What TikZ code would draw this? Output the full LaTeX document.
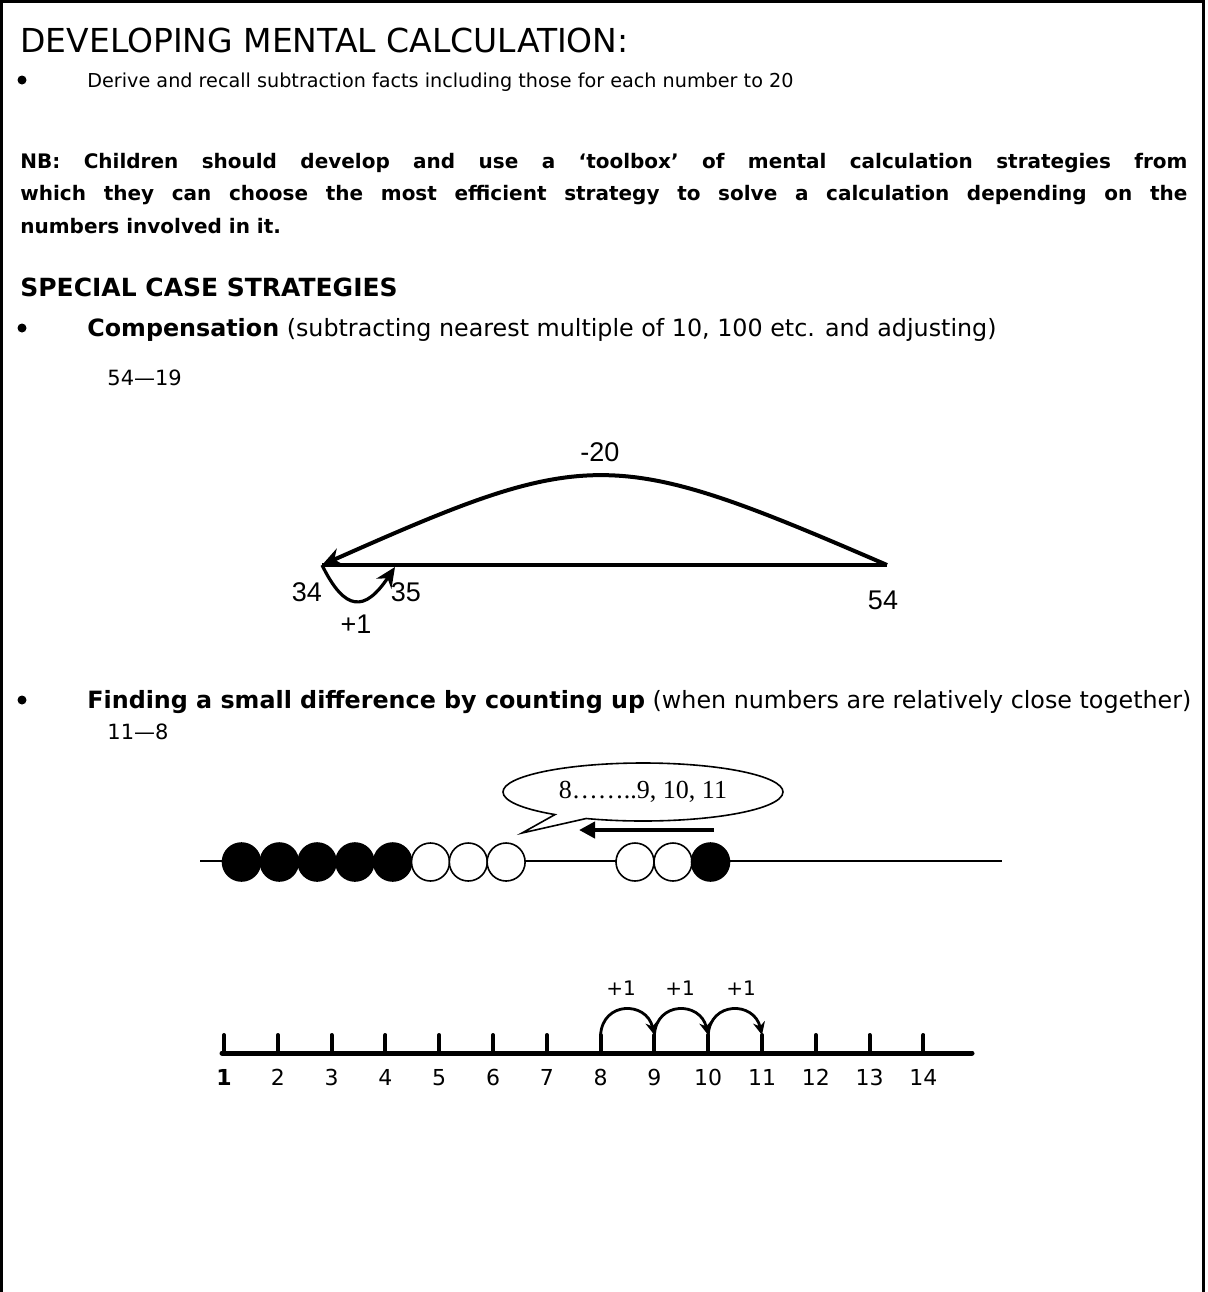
\documentclass[tikz,border=0pt]{standalone}
\usepackage{fontspec}
\setmainfont{DejaVu Sans}
\newfontfamily\bubblefont{Liberation Serif}
\newfontfamily\labelfont{Liberation Sans}
\usetikzlibrary{arrows.meta,shapes.callouts}

\begin{document}
\begin{tikzpicture}[x=0.5pt, y=-0.5pt, >={Stealth[length=10pt,width=9pt]},
    txt/.style={anchor=base west, inner sep=0pt},
    body/.style={txt, font=\fontsize{11.9}{14}\selectfont},
    bul/.style={circle, fill, inner sep=0pt, minimum size=4.5pt},
    num/.style={font=\labelfont\fontsize{13.5}{16}\selectfont, inner sep=0pt},
    nlab/.style={anchor=base, inner sep=0pt, font=\fontsize{11}{13}\selectfont},
    plus/.style={inner sep=0pt, font=\fontsize{10}{12}\selectfont},
    bead/.style={line width=0.8pt},
    hop/.style={->, line width=1.4pt, >={Stealth[length=6.5pt,width=6pt]}}]
    \useasboundingbox (0,0) rectangle (1207,1292);
    \draw[line width=1.5pt] (1.5,1292) -- (1.5,1.5) -- (1203.5,1.5) -- (1203.5,1292);

    \node[txt, font=\fontsize{16.5}{19}\selectfont] (title) at (20,52) {DEVELOPING MENTAL CALCULATION:};
    \node[bul] (bul1) at (22,80) {};
    \node[txt, font=\fontsize{9.6}{12}\selectfont] (derive) at (87,87)
        {Derive and recall subtraction facts including those for each number to 20};

    \node[txt, font=\bfseries\fontsize{10}{12}\selectfont] (nb1) at (20,168)
        {\makebox[583.5pt][s]{NB: Children should develop and use a ‘toolbox’ of mental calculation strategies from}};
    \node[txt, font=\bfseries\fontsize{10}{12}\selectfont] (nb2) at (20,200)
        {\makebox[583.5pt][s]{which they can choose the most efficient strategy to solve a calculation depending on the}};
    \node[txt, font=\bfseries\fontsize{10}{12}\selectfont] (nb3) at (20,233) {numbers involved in it.};

    \node[txt, font=\bfseries\fontsize{12.5}{15}\selectfont] (special) at (20,296) {SPECIAL CASE STRATEGIES};

    \node[bul] (bul2) at (22,328) {};
    \node[body] (comp) at (87,336)
        {\textbf{Compensation} (subtracting nearest multiple of 10, 100 etc. and adjusting)};
    \node[txt, font=\fontsize{10.5}{12}\selectfont] (sum1) at (107,385) {54—19};

    \coordinate (c34) at (322,565);
    \coordinate (c35) at (395,567);
    \coordinate (c54) at (887,565);
    \draw[line width=2pt] (c34) -- (c54);
    \draw[->, line width=2pt] (c54) .. controls (612,446) and (590,446) .. (c34);
    \draw[->, line width=1.6pt] (c34) .. controls (345,612) and (365,612) .. (c35);
    \node[num] (n20) at (600,452) {-20};
    \node[num] (n34) at (307,592) {34};
    \node[num] (n35) at (406,592) {35};
    \node[num] (n54) at (883,600) {54};
    \node[num] (n1) at (356,624) {+1};

    \node[bul] (bul3) at (22,700) {};
    \node[body] (find) at (87,708)
        {\textbf{Finding a small difference by counting up} (when numbers are relatively close together)};
    \node[txt, font=\fontsize{10.5}{12}\selectfont] (sum2) at (107,739) {11—8};

    \node[ellipse callout, draw, line width=0.8pt, minimum width=140pt, minimum height=29pt,
        inner sep=0pt, callout absolute pointer={(522,833)},
        font=\bubblefont\fontsize{13}{15}\selectfont] (bubble) at (643,792) {8……..9, 10, 11};
    \coordinate (a0) at (714,830);
    \coordinate (a1) at (579,830);
    \draw[->, line width=2.2pt, >={Triangle[length=8pt,width=8pt]}] (a0) -- (a1);

    \draw[line width=0.8pt] (200,861) -- (1002,861);
    \foreach \k/\col in {0/black,1/black,2/black,3/black,4/black,5/white,6/white,7/white} {
        \pgfmathsetmacro{\bx}{241.5+37.8*\k}
        \draw[bead, fill=\col] (\bx,862) circle (9.5pt);
    }
    \foreach \bx/\col in {635/white,673/white,710.5/black} {
        \draw[bead, fill=\col] (\bx,862) circle (9.5pt);
    }

    \draw[line width=2.5pt, line cap=round] (222,1053) -- (972,1053);
    \foreach \i in {1,...,14} {
        \pgfmathsetmacro{\tx}{224+53.8*(\i-1)}
        \coordinate (t\i) at (\tx,1053);
        \coordinate (u\i) at (\tx,1035);
        \draw[line width=2pt, line cap=round] (t\i) -- (u\i);
        \node[nlab] (l\i) at (\tx,1085) {\ifnum\i=1 \textbf{1}\else\i\fi};
    }
    \foreach \a/\b/\px in {8/9/621,9/10/680,10/11/741} {
        \draw[hop] (u\a) .. controls +(2,-34) and +(-8,-34) .. (u\b);
        \node[plus] (p\a) at (\px,988) {+1};
    }
\end{tikzpicture}
\end{document}
